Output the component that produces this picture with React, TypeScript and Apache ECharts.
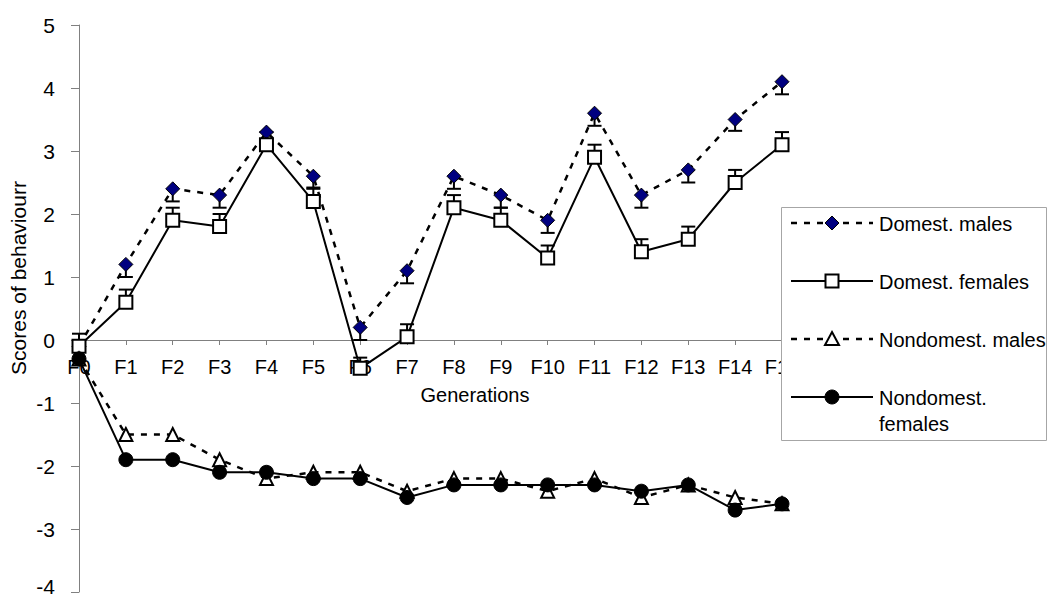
import React, { useEffect, useRef } from "react";
import * as echarts from "echarts";

const categories = ["F0", "F1", "F2", "F3", "F4", "F5", "F6", "F7", "F8", "F9", "F10", "F11", "F12", "F13", "F14", "F15"];
const domestMales = [-0.1, 1.2, 2.4, 2.3, 3.3, 2.6, 0.2, 1.1, 2.6, 2.3, 1.9, 3.6, 2.3, 2.7, 3.5, 4.1];
const domestMalesErr = [0.2, 0.2, 0.2, 0.2, 0.2, 0.18, 0.2, 0.2, 0.2, 0.2, 0.2, 0.2, 0.2, 0.2, 0.18, 0.2];
const domestFemales = [-0.1, 0.6, 1.9, 1.8, 3.1, 2.2, -0.45, 0.05, 2.1, 1.9, 1.3, 2.9, 1.4, 1.6, 2.5, 3.1];
const domestFemalesErr = [0.2, 0.2, 0.2, 0.2, 0.2, 0.2, 0.17, 0.2, 0.2, 0.2, 0.2, 0.2, 0.2, 0.2, 0.2, 0.2];
const nondomestMales = [-0.3, -1.5, -1.5, -1.9, -2.2, -2.1, -2.1, -2.4, -2.2, -2.2, -2.4, -2.2, -2.5, -2.3, -2.5, -2.6];
const nondomestFemales = [-0.3, -1.9, -1.9, -2.1, -2.1, -2.2, -2.2, -2.5, -2.3, -2.3, -2.3, -2.3, -2.4, -2.3, -2.7, -2.6];
const legendNames = ["Domest. males", "Domest. females", "Nondomest. males", "Nondomest.\nfemales"];
const yMin = -4;
const yMax = 5;

const FONT = "Liberation Sans, Arial, sans-serif";
const DASH = [6, 7];
const GRID_TOP = 25;
const GRID_BOTTOM = 7;
const HEIGHT = 599;

function errorSeries(values: number[], errs: number[], dir: number) {
  return {
    type: "custom",
    silent: true,
    encode: { x: 0, y: 1 },
    renderItem: (_params: any, api: any) => {
      const x = api.value(0);
      const y = api.value(1);
      const e = api.value(2);
      const p0 = api.coord([x, y]);
      const p1 = api.coord([x, y + dir * e]);
      return {
        type: "group",
        children: [
          { type: "line", shape: { x1: p0[0], y1: p0[1], x2: p1[0], y2: p1[1] }, style: { stroke: "#000", lineWidth: 2 } },
          { type: "line", shape: { x1: p1[0] - 7, y1: p1[1], x2: p1[0] + 7, y2: p1[1] }, style: { stroke: "#000", lineWidth: 2 } },
        ],
      };
    },
    data: values.map((v, i) => [i, v, errs[i]]),
  };
}

function legendItem(cy: number, dashed: boolean, marker: any): any[] {
  const lineStyle: any = { stroke: "#000", lineWidth: dashed ? 2.5 : 2 };
  if (dashed) lineStyle.lineDash = DASH;
  return [
    { type: "line", shape: { x1: 791, y1: cy, x2: 873, y2: cy }, style: lineStyle, z: 101 },
    { ...marker, z: 102 },
  ];
}

export default function App() {
  const ref = useRef<HTMLDivElement>(null);
  useEffect(() => {
    if (!ref.current) return;
    const chart = echarts.init(ref.current, null, { renderer: "svg" });
    const plotH = HEIGHT - GRID_TOP - GRID_BOTTOM;
    const zeroOffset = -(plotH * (0 - yMin)) / (yMax - yMin);
    const mx = 832;
    const rows = [223, 281, 339, 397];
    const graphics: any[] = [
      {
        type: "text",
        x: 18,
        y: 278,
        rotation: Math.PI / 2,
        style: { text: "Scores of behaviourr", font: `21px ${FONT}`, fill: "#000", textAlign: "center", textVerticalAlign: "middle" },
      },
      {
        type: "text",
        x: 475,
        y: 395,
        style: { text: "Generations", font: `20px ${FONT}`, fill: "#000", textAlign: "center", textVerticalAlign: "middle" },
      },
      {
        type: "rect",
        shape: { x: 781.5, y: 207.5, width: 265, height: 233 },
        style: { fill: "#fff", stroke: "#a6a6a6", lineWidth: 1 },
        z: 100,
      },
      ...legendItem(rows[0], true, {
        type: "polygon",
        shape: { points: [[mx, rows[0] - 7], [mx + 7, rows[0]], [mx, rows[0] + 7], [mx - 7, rows[0]]] },
        style: { fill: "#000080", stroke: "#000", lineWidth: 1 },
      }),
      ...legendItem(rows[1], false, {
        type: "rect",
        shape: { x: mx - 6.5, y: rows[1] - 6.5, width: 13, height: 13 },
        style: { fill: "#fff", stroke: "#000", lineWidth: 2 },
      }),
      ...legendItem(rows[2], true, {
        type: "polygon",
        shape: { points: [[mx, rows[2] - 7], [mx + 7, rows[2] + 6], [mx - 7, rows[2] + 6]] },
        style: { fill: "#fff", stroke: "#000", lineWidth: 2 },
      }),
      ...legendItem(rows[3], false, {
        type: "circle",
        shape: { cx: mx, cy: rows[3], r: 7 },
        style: { fill: "#000", stroke: "#000", lineWidth: 1 },
      }),
      ...legendNames.map((name, i) => ({
        type: "text",
        x: 879,
        y: rows[i] - 12,
        z: 103,
        style: {
          text: name,
          font: `20px ${FONT}`,
          fill: "#000",
          textAlign: "left",
          textVerticalAlign: "top",
          lineHeight: 26,
        },
      })),
    ];
    chart.setOption({
      animation: false,
      backgroundColor: "#fff",
      grid: { left: 79, right: 267, top: GRID_TOP, bottom: GRID_BOTTOM, containLabel: false, outerBoundsMode: "none" },
      xAxis: {
        type: "category",
        data: categories,
        boundaryGap: false,
        offset: zeroOffset,
        axisLine: { onZero: false, lineStyle: { color: "#808080", width: 1 } },
        axisTick: { show: true, length: 5, inside: false, lineStyle: { color: "#808080" } },
        axisLabel: { color: "#000", fontSize: 20, fontFamily: FONT, margin: 17, interval: 0 },
        splitLine: { show: false },
      },
      yAxis: {
        type: "value",
        min: yMin,
        max: yMax,
        interval: 1,
        axisLine: { show: true, lineStyle: { color: "#808080", width: 1 } },
        axisTick: { show: true, length: 8, inside: false, lineStyle: { color: "#808080" } },
        axisLabel: {
          color: "#000",
          fontSize: 21,
          fontFamily: FONT,
          margin: 24,
          formatter: (v: number) => (v === yMin ? `{low|${v}}` : `${v}`),
          rich: { low: { fontSize: 21, fontFamily: FONT, color: "#000", padding: [0, 0, 12, 0] } },
        },
        splitLine: { show: false },
      },
      graphic: graphics,
      series: [
        errorSeries(domestMales, domestMalesErr, -1),
        {
          name: legendNames[0],
          type: "line",
          data: domestMales,
          symbol: "diamond",
          symbolSize: 14,
          lineStyle: { color: "#000", width: 2.5, type: DASH },
          itemStyle: { color: "#000080", borderColor: "#000", borderWidth: 1 },
        },
        errorSeries(domestFemales, domestFemalesErr, 1),
        {
          name: legendNames[1],
          type: "line",
          data: domestFemales,
          symbol: "rect",
          symbolSize: 13,
          lineStyle: { color: "#000", width: 2 },
          itemStyle: { color: "#fff", borderColor: "#000", borderWidth: 2 },
        },
        {
          name: legendNames[2],
          type: "line",
          data: nondomestMales,
          symbol: "triangle",
          symbolSize: 13,
          lineStyle: { color: "#000", width: 2.5, type: DASH },
          itemStyle: { color: "#fff", borderColor: "#000", borderWidth: 2 },
        },
        {
          name: "Nondomest. females",
          type: "line",
          data: nondomestFemales,
          symbol: "circle",
          symbolSize: 14,
          lineStyle: { color: "#000", width: 2 },
          itemStyle: { color: "#000", borderColor: "#000", borderWidth: 1 },
        },
      ],
    });
    return () => chart.dispose();
  }, []);
  return <div ref={ref} style={{ position: "fixed", left: 0, top: 0, width: 1049, height: 599 }} />;
}
